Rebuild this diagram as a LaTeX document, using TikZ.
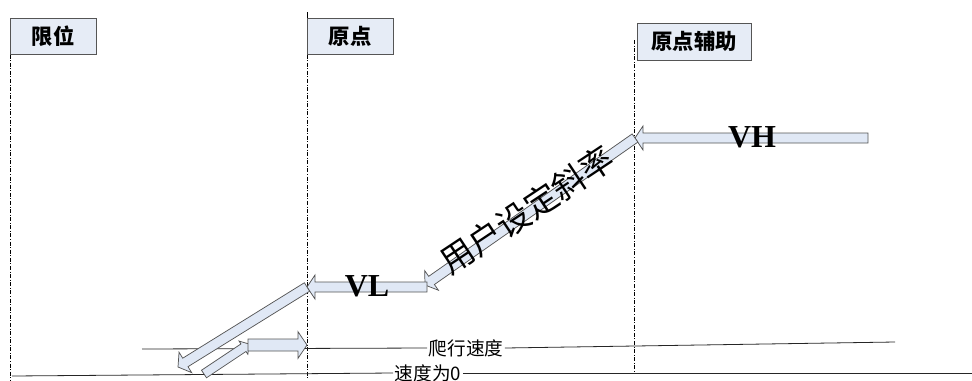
\documentclass[tikz,border=0pt]{standalone}
\usepackage{fontspec}
\setmainfont{Liberation Serif}
\newfontfamily\cjk{Noto Sans CJK SC}
\usetikzlibrary{calc,positioning}
\definecolor{arrowfill}{HTML}{E0E8F5}
\definecolor{boxfill}{HTML}{E6ECF6}
\definecolor{edgegray}{HTML}{555555}

% block arrow: tail, tip, half shaft, half head, head length
\newcommand{\blockarrow}[5]{%
    \coordinate (ab) at ($(#2)!#5!(#1)$);
    \draw[arrowbody] ($(#1)!#3!90:(#2)$) -- ($(ab)!#3!90:(#2)$) -- ($(ab)!#4!90:(#2)$) -- (#2)
        -- ($(ab)!#4!-90:(#2)$) -- ($(ab)!#3!-90:(#2)$) -- ($(#1)!#3!-90:(#2)$) -- cycle;
}

\tikzset{
    labelbox/.style={draw=edgegray,fill=boxfill,anchor=north west,inner sep=0pt,
        font=\cjk\bfseries\fontsize{16}{18}\selectfont},
    guide/.style={black,line width=0.75pt,dash pattern=on 3pt off 1.2pt on 0.7pt off 1.2pt},
    arrowbody/.style={draw=edgegray,fill=arrowfill,line width=0.55pt,line join=miter},
    speedline/.style={black!85,line width=0.6pt},
    speedtext/.style={font=\cjk\fontsize{14}{16}\selectfont,inner sep=1pt},
    speedname/.style={font=\bfseries\fontsize{24}{24}\selectfont,inner sep=0pt},
}

\begin{document}
\begin{tikzpicture}[x=0.75pt,y=-0.75pt,line cap=butt]
    \useasboundingbox (0,0) rectangle (972,380);

    % position labels
    \node[labelbox,minimum width=64.5pt,minimum height=27pt] (limit) at (10,18) {限位};
    \node[labelbox,minimum width=64.5pt,minimum height=27pt] (origin) at (307,18) {原点};
    \node[labelbox,minimum width=85.5pt,minimum height=27.75pt] (aux) at (637,23) {原点辅助};
    \draw[guide] (limit.south west) -- (10,380);
    \draw[black,line width=0.75pt] (307,12) -- (origin.north west);
    \draw[guide] (origin.south west) -- (307,378);
    \draw[guide] (634,40) -- (634,372);

    % speed levels
    \node[speedtext] (creep) at (466,348) {爬行速度};
    \draw[speedline] (142,349) -- (creep.west);
    \draw[speedline] (creep.east) -- (895,342);
    \node[speedtext] (zero) at (428,373) {速度为0};
    \draw[speedline] (12,376) -- (zero.west);
    \draw[speedline] (zero.east) -- (972,373);

    % speed profile
    \coordinate (vhtail) at (868,138);
    \coordinate (vhtip) at (635,138);
    \coordinate (slopetip) at (425,285);
    \coordinate (vltail) at (427,287);
    \coordinate (vltip) at (307,287);
    \coordinate (falltip) at (178,367);
    \coordinate (risetail) at (204,374);
    \coordinate (risetip) at (249,344);
    \coordinate (creeptail) at (248,345);
    \coordinate (creeptip) at (307,345);
    \blockarrow{vhtail}{vhtip}{3.75pt}{9pt}{6pt}
    \blockarrow{vhtip}{slopetip}{3.75pt}{9pt}{6pt}
    \blockarrow{vltail}{vltip}{3.75pt}{9pt}{6pt}
    \blockarrow{vltip}{falltip}{3.75pt}{9pt}{6.5pt}
    \blockarrow{risetail}{risetip}{3.4pt}{6pt}{5pt}
    \blockarrow{creeptail}{creeptip}{4.5pt}{10pt}{6.75pt}

    \node[speedname] (vh) at (752,137) {VH};
    \node[speedname] (vl) at (367,286) {VL};
    \node[font=\cjk\fontsize{25}{25}\selectfont,inner sep=0pt,rotate=33.6] (slope) at (527,210) {用户设定斜率};
\end{tikzpicture}
\end{document}
